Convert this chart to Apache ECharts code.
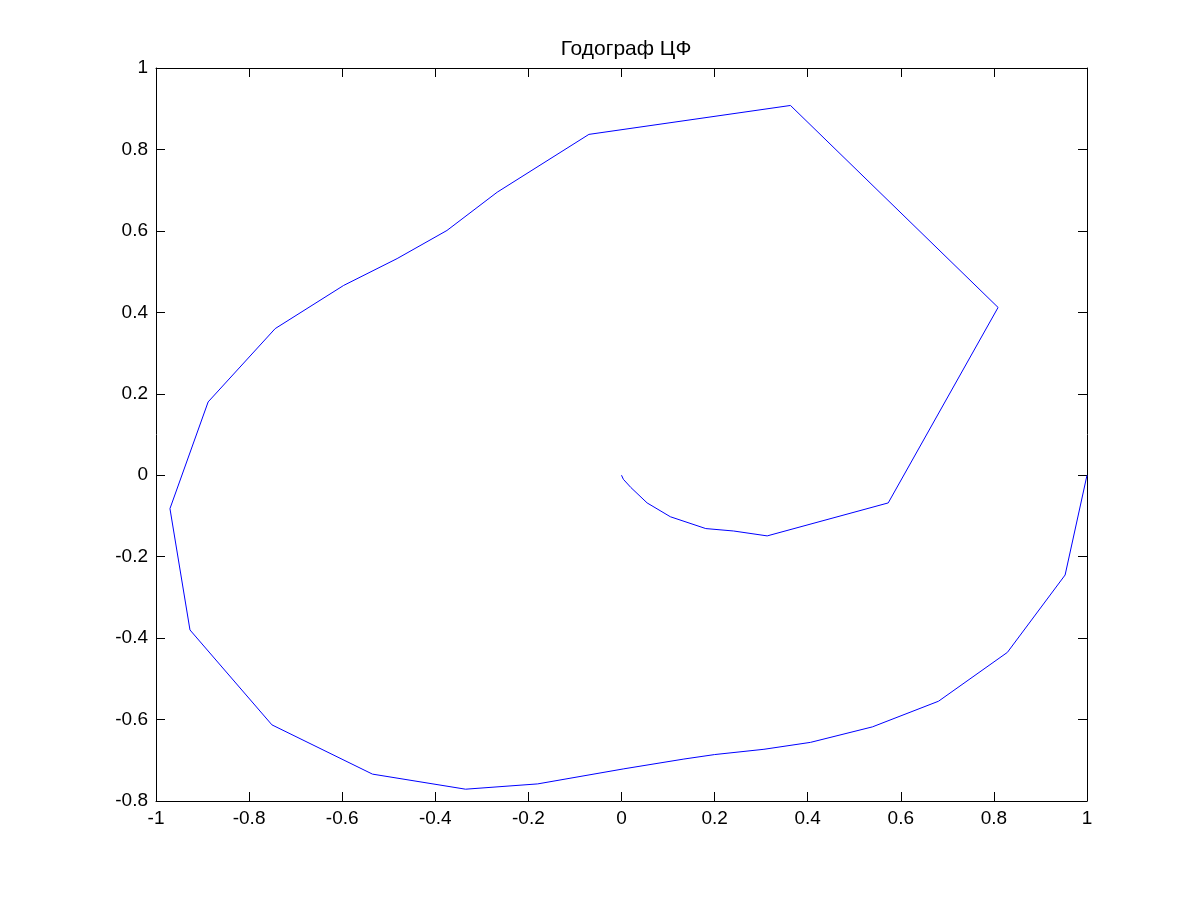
<!DOCTYPE html>
<html>
<head>
<meta charset="utf-8">
<script src="https://cdn.jsdelivr.net/npm/echarts@6/dist/echarts.min.js"></script>
<style>
html,body{margin:0;padding:0;background:#fff;}
#chart{width:1201px;height:901px;}
</style>
</head>
<body>
<div id="chart"></div>
<script>
const titleText = 'Годограф ЦФ';
const reVals = [1, 0.953, 0.829, 0.681, 0.539, 0.406, 0.306, 0.200, 0.134, 0.005, -0.180, -0.335, -0.535, -0.751, -0.927, -0.970, -0.888, -0.744, -0.597, -0.482, -0.375, -0.267, -0.070, 0.363, 0.809, 0.573, 0.313, 0.241, 0.181, 0.105, 0.055, 0.020, 0.004, 0];
const imVals = [0, -0.245, -0.435, -0.555, -0.618, -0.656, -0.673, -0.686, -0.697, -0.721, -0.758, -0.771, -0.734, -0.613, -0.380, -0.082, 0.180, 0.360, 0.466, 0.532, 0.601, 0.695, 0.837, 0.908, 0.412, -0.068, -0.149, -0.137, -0.131, -0.102, -0.068, -0.030, -0.010, 0];
const xRange = [-1, 1];
const yRange = [-0.8, 1];
const tickStep = 0.2;

const pts = reVals.map((x, i) => [x, imVals[i]]);
const font = 'Liberation Sans, Arial, Helvetica, sans-serif';

function axisBase(extra) {
  return Object.assign({
    type: 'value',
    interval: tickStep,
    axisLine: { show: true, onZero: false, lineStyle: { color: '#000', width: 1 } },
    axisTick: { show: true, inside: true, length: 9, lineStyle: { color: '#000', width: 1 } },
    splitLine: { show: false },
    axisLabel: { color: '#000', fontSize: 19, fontFamily: font, margin: 8 }
  }, extra);
}

const chart = echarts.init(document.getElementById('chart'), null, { renderer: 'canvas' });
chart.setOption({
  animation: false,
  backgroundColor: '#fff',
  title: {
    text: titleText,
    left: 621,
    textAlign: 'center',
    top: 34,
    textStyle: { color: '#000', fontSize: 21, fontWeight: 'normal', fontFamily: font }
  },
  grid: { left: 156, right: 114, top: 68, bottom: 100, containLabel: false },
  xAxis: [
    axisBase({ position: 'bottom', min: xRange[0], max: xRange[1] }),
    axisBase({ position: 'top', min: xRange[0], max: xRange[1], axisLabel: { show: false } })
  ],
  yAxis: [
    axisBase({ position: 'left', min: yRange[0], max: yRange[1] }),
    axisBase({ position: 'right', min: yRange[0], max: yRange[1], axisLabel: { show: false } })
  ],
  series: [{
    type: 'line',
    xAxisIndex: 0,
    yAxisIndex: 0,
    data: pts,
    showSymbol: false,
    symbol: 'none',
    smooth: false,
    clip: false,
    lineStyle: { color: '#0000ff', width: 1 }
  }]
});
</script>
</body>
</html>
